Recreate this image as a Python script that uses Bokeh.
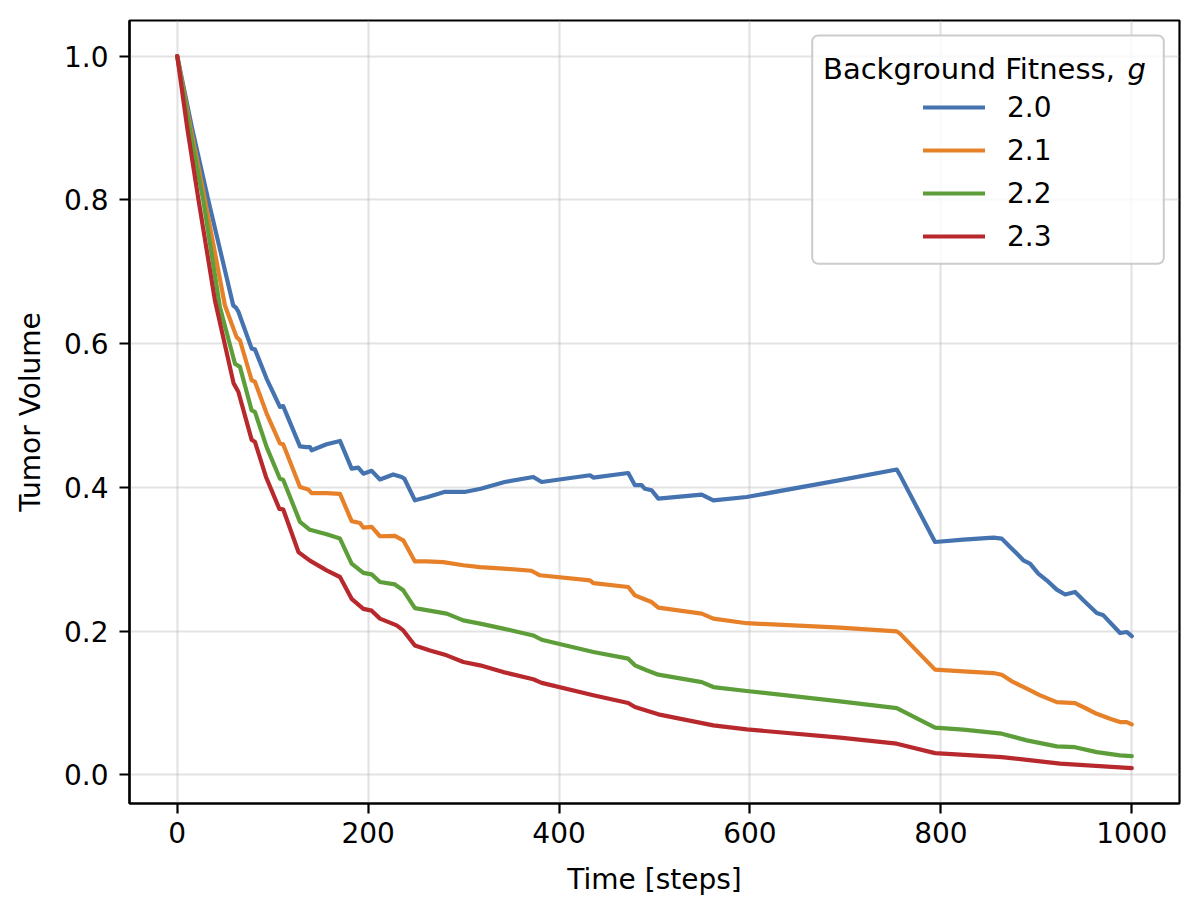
from bokeh.plotting import figure
from bokeh.models import (Range1d, FixedTicker, PrintfTickFormatter, Legend, LegendItem,
                          BoxAnnotation, Label)
from bokeh.embed import file_html
from bokeh.resources import INLINE

# ---- data ----
legend_title = "Background Fitness,"
legend_symbol = "g"
fitness_labels = ["2.0", "2.1", "2.2", "2.3"]

steps_20 = [0, 15.5, 32.5, 58.7, 61.5, 63.9, 78, 81.4, 93.7, 107.6, 111, 128.6, 135, 139, 140.8,
            156.5, 170.5, 182.7, 189.7, 195, 203.7, 212.4, 226.3, 235.1, 238, 249, 262.4, 279.8,
            301, 318, 343, 373, 381.8, 432.4, 435.9, 472.5, 479.5, 486.5, 490, 497, 504, 549.5,
            561.6, 596.6, 694.4, 753.8, 757.2, 793.9, 823.6, 855, 863.8, 872.5, 879.5, 886.4,
            893.4, 902.1, 910.9, 921.4, 930.2, 940.6, 949.3, 963.3, 970.3, 987.7, 994.7, 1000]
vol_20 = [1.0, 0.9, 0.8, 0.653, 0.650, 0.645, 0.593, 0.592, 0.551, 0.512, 0.513, 0.457, 0.456, 0.456,
          0.4516, 0.460, 0.4646, 0.426, 0.4275, 0.419, 0.423, 0.411, 0.418, 0.4145, 0.412, 0.382,
          0.3866, 0.3936, 0.3936, 0.398, 0.4075, 0.4145, 0.4075, 0.4168, 0.4136, 0.420, 0.403, 0.403,
          0.398, 0.396, 0.3844, 0.390, 0.382, 0.3866, 0.41, 0.4248, 0.417, 0.324, 0.3273, 0.330,
          0.3287, 0.317, 0.308, 0.2985, 0.294, 0.280, 0.2707, 0.2577, 0.251, 0.2545, 0.2429, 0.2252,
          0.222, 0.1974, 0.1988, 0.193]

steps_21 = [0, 14, 29, 50, 62.2, 65.7, 78, 81.4, 93.7, 107.6, 111, 128.6, 137.3, 140.8, 156.5, 170.5,
            182.7, 191.4, 195, 203.7, 212.4, 228, 236.8, 249, 261.3, 278.7, 299.7, 317.2, 341.6,
            371, 380, 432.4, 435.9, 472.5, 479.5, 488.3, 497, 504, 549.5, 561.6, 596.6, 694.4,
            753.8, 757.2, 793.9, 823.6, 855, 863.8, 876, 890, 904, 921.4, 940.6, 952.8, 963.3,
            977.3, 987.7, 994.7, 1000]
vol_21 = [1.0, 0.9, 0.8, 0.653, 0.609, 0.6047, 0.549, 0.547, 0.5027, 0.461, 0.460, 0.4006, 0.397,
          0.392, 0.392, 0.391, 0.353, 0.3505, 0.344, 0.345, 0.332, 0.3324, 0.3264, 0.297, 0.297,
          0.296, 0.2916, 0.289, 0.287, 0.284, 0.2777, 0.2707, 0.2668, 0.2614, 0.2498, 0.245, 0.2405,
          0.2327, 0.2243, 0.2174, 0.211, 0.2049, 0.1997, 0.1965, 0.1464, 0.144, 0.1417, 0.1394,
          0.129, 0.12, 0.1106, 0.1013, 0.0999, 0.092, 0.085, 0.078, 0.0735, 0.0735, 0.0703]

steps_22 = [0, 13, 27.2, 44.7, 60.5, 65.7, 78, 81.4, 93.7, 107.6, 111, 128.6, 139, 156.5, 170.5,
            182.7, 195, 203.7, 212.4, 228, 236.8, 249, 282.3, 299.7, 317.2, 341.6, 373, 381.8,
            435.9, 472.5, 479.5, 491.8, 504, 549.5, 561.6, 596.6, 694.4, 753.8, 793.9, 823.6,
            863.8, 890, 921.4, 940.6, 963.3, 987.7, 1000]
vol_22 = [1.0, 0.9, 0.8, 0.651, 0.572, 0.5676, 0.507, 0.505, 0.456, 0.412, 0.4106, 0.352, 0.341,
          0.3347, 0.3287, 0.294, 0.281, 0.279, 0.2684, 0.265, 0.2568, 0.232, 0.2243, 0.215, 0.2104,
          0.2035, 0.194, 0.188, 0.171, 0.1617, 0.1524, 0.1455, 0.1394, 0.129, 0.1222, 0.1167,
          0.1023, 0.093, 0.0657, 0.063, 0.0573, 0.048, 0.0397, 0.0385, 0.0317, 0.0271, 0.0262]

steps_23 = [0, 10.5, 22.3, 39.5, 59, 64, 78, 81.4, 93, 107, 111, 127, 139, 156.5, 170.5, 182.7,
            195, 203.7, 212.4, 229.9, 236.8, 249, 264.8, 282.3, 299.7, 317.2, 341.6, 373, 381.8,
            435.9, 472.5, 479.5, 504, 561.6, 596.6, 694.4, 753.8, 793.9, 863.8, 924.9, 1000]
vol_23 = [1.0, 0.9, 0.8, 0.66, 0.545, 0.533, 0.466, 0.4634, 0.4145, 0.370, 0.3695, 0.310, 0.298,
          0.2846, 0.2753, 0.245, 0.231, 0.2285, 0.2174, 0.208, 0.201, 0.180, 0.173, 0.1663, 0.157,
          0.1524, 0.143, 0.133, 0.128, 0.1107, 0.100, 0.0944, 0.0842, 0.0689, 0.0633, 0.0518,
          0.0434, 0.0303, 0.0248, 0.0156, 0.0095]

x_ticks = [0, 200, 400, 600, 800, 1000]
y_ticks = [0.0, 0.2, 0.4, 0.6, 0.8, 1.0]

# ---- styling / layout ----
colors = ["#4473b0", "#e6812a", "#5d9e3a", "#b8292d"]
FONT = "DejaVu Sans"
FS = "28px"
FS_TITLE = "29px"

W, H = 1184, 898
B_LEFT, B_RIGHT, B_TOP, B_BOTTOM = 129, 5, 20, 95
X0, X1 = -50, 1050
Y0, Y1 = -0.0398, 1.0495
FRAME_W = W - B_LEFT - B_RIGHT
FRAME_H = H - B_TOP - B_BOTTOM


def sx_to_x(px):
    return X0 + (px - B_LEFT) * (X1 - X0) / FRAME_W


def sy_to_y(py):
    return Y1 - (py - B_TOP) * (Y1 - Y0) / FRAME_H


p = figure(width=W, height=H, output_backend="svg", toolbar_location=None,
           x_range=Range1d(X0, X1), y_range=Range1d(Y0, Y1),
           min_border_left=B_LEFT, min_border_right=B_RIGHT,
           min_border_top=B_TOP, min_border_bottom=B_BOTTOM)
p.background_fill_color = "white"
p.border_fill_color = "white"
p.outline_line_color = "black"
p.outline_line_width = 2.2
p.outline_line_alpha = 1.0

series = [(steps_20, vol_20), (steps_21, vol_21), (steps_22, vol_22), (steps_23, vol_23)]
renderers = []
for (xs, ys), c in zip(series, colors):
    r = p.line(xs, ys, line_color=c, line_width=4.2, line_join="round", line_cap="round")
    renderers.append(r)

for ax in (p.xaxis[0], p.yaxis[0]):
    ax.axis_line_color = "black"
    ax.axis_line_width = 2.2
    ax.major_tick_line_color = "black"
    ax.major_tick_line_width = 2.2
    ax.major_tick_out = 10
    ax.major_tick_in = 0
    ax.minor_tick_line_color = None
    ax.major_label_text_font = FONT
    ax.major_label_text_font_size = FS
    ax.major_label_text_color = "black"
    ax.axis_label_text_font = FONT
    ax.axis_label_text_font_size = FS
    ax.axis_label_text_font_style = "normal"
    ax.axis_label_text_color = "black"

p.xaxis.ticker = FixedTicker(ticks=x_ticks)
p.yaxis.ticker = FixedTicker(ticks=y_ticks)
p.yaxis.formatter = PrintfTickFormatter(format="%.1f")
p.xaxis.axis_label = "Time [steps]"
p.yaxis.axis_label = "Tumor Volume"
p.xaxis.major_label_standoff = 8
p.yaxis.major_label_standoff = 11
p.xaxis.axis_label_standoff = 17
p.yaxis.axis_label_standoff = 14

p.xgrid.ticker = FixedTicker(ticks=x_ticks)
p.ygrid.ticker = FixedTicker(ticks=y_ticks)
for g in (p.xgrid[0], p.ygrid[0]):
    g.grid_line_color = "#b0b0b0"
    g.grid_line_alpha = 0.35
    g.grid_line_width = 2.2

# legend frame (matplotlib-style: centred entries under the title)
box = BoxAnnotation(left=sx_to_x(811.7), right=sx_to_x(1163.3),
                    top=sy_to_y(35), bottom=sy_to_y(263.3),
                    fill_color="white", fill_alpha=0.8,
                    line_color="#cccccc", line_width=2, line_alpha=1.0)
try:
    box.border_radius = 6
except Exception:
    pass
p.add_layout(box)

p.add_layout(Label(x=sx_to_x(822.5), y=sy_to_y(68.3), text=legend_title,
                   text_font=FONT, text_font_size=FS_TITLE, text_color="black",
                   text_align="left", text_baseline="alphabetic"))
p.add_layout(Label(x=sx_to_x(1127), y=sy_to_y(68.3), text=legend_symbol,
                   text_font=FONT, text_font_size=FS_TITLE, text_font_style="italic",
                   text_color="black", text_align="left", text_baseline="alphabetic"))

items = [LegendItem(label=lab, renderers=[r]) for lab, r in zip(fitness_labels, renderers)]
legend = Legend(items=items, location="top_right")
legend.label_text_font = FONT
legend.label_text_font_size = FS
legend.label_text_color = "black"
legend.glyph_width = 62
legend.glyph_height = 40
legend.label_height = 40
legend.label_width = 105
legend.label_standoff = 22
legend.spacing = 3
legend.padding = 0
legend.margin = 67
legend.border_line_color = None
legend.background_fill_alpha = 0.0
p.add_layout(legend)

open("out.html", "w").write(file_html(p, INLINE))
